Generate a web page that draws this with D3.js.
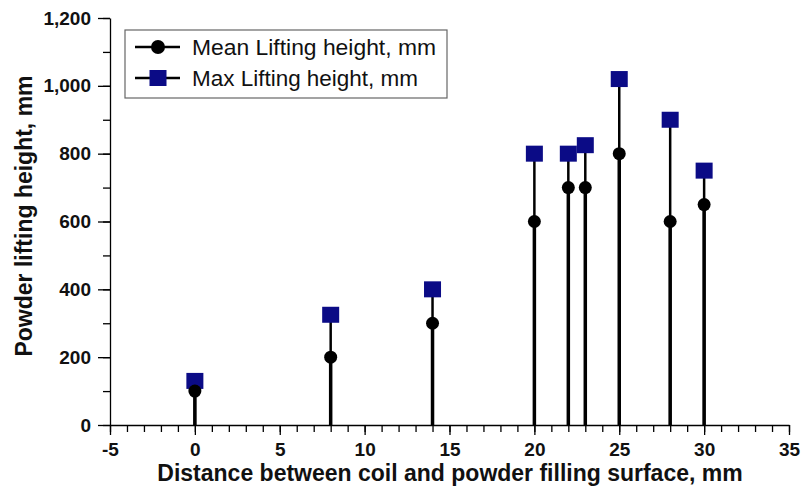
<!DOCTYPE html>
<html>
<meta charset="utf-8">
<script src='https://d3js.org/d3.v7.min.js'></script>
<style>
	body {margin: 0; background: white; }
	svg {display: block; font-family: "Liberation Sans", Arial, sans-serif; }
</style>
<body>
<svg id="chart" width="803" height="487"></svg>
<script>
// distances (mm) and lifting heights (mm)
const distance = [0, 8, 14, 20, 22, 23, 25, 28, 30];
const meanLift = [100, 200, 300, 600, 700, 700, 800, 600, 650];
const maxLift  = [130, 325, 400, 800, 800, 825, 1020, 900, 750];

const xTicks = [-5, 0, 5, 10, 15, 20, 25, 30, 35];
const yTicks = [0, 200, 400, 600, 800, 1000, 1200];
const seriesNames = ["Mean Lifting height, mm", "Max Lifting height, mm"];

const svg = d3.select("#chart"),
	margin = {top: 18, right: 14, bottom: 62, left: 110},
	width = +svg.attr("width"),
	height = +svg.attr("height");

const x = d3.scaleLinear()
	.domain([-5, 35])
	.range([margin.left, width - margin.right]);

const y = d3.scaleLinear()
	.domain([0, 1200])
	.range([height - margin.bottom, margin.top]);

const navy = "#0b0b86";
const points = distance.map((d, i) => ({d, mean: meanLift[i], max: maxLift[i]}));

// minor ticks
svg.append("g")
	.attr("transform", `translate(0,${y(0)})`)
	.call(d3.axisBottom(x).ticks(40).tickSize(7).tickFormat(""))
	.call(g => g.select(".domain").remove())
	.selectAll("line").attr("stroke-width", 1.3);

svg.append("g")
	.attr("transform", `translate(${x(-5)},0)`)
	.call(d3.axisLeft(y).ticks(12).tickSize(7).tickFormat(""))
	.call(g => g.select(".domain").remove())
	.selectAll("line").attr("stroke-width", 1.3);

// major ticks + labels
const xAxis = svg.append("g")
	.attr("transform", `translate(0,${y(0)})`)
	.call(d3.axisBottom(x).tickValues(xTicks).tickSize(10).tickPadding(8).tickSizeOuter(0).tickFormat(d => String(d)));
xAxis.selectAll("line").attr("stroke-width", 1.3);
xAxis.select(".domain").attr("stroke-width", 1.3);
xAxis.selectAll("text")
	.attr("font-size", 19).attr("font-weight", "bold").attr("fill", "#111")
	.attr("font-family", "Liberation Sans, Arial");

const yAxis = svg.append("g")
	.attr("transform", `translate(${x(-5)},0)`)
	.call(d3.axisLeft(y).tickValues(yTicks).tickSize(12).tickPadding(7).tickSizeOuter(0).tickFormat(d3.format(",")));
yAxis.selectAll("line").attr("stroke-width", 1.3);
yAxis.select(".domain").attr("stroke-width", 1.3);
yAxis.selectAll("text")
	.attr("font-size", 19).attr("font-weight", "bold").attr("fill", "#111")
	.attr("font-family", "Liberation Sans, Arial");

// axis titles
svg.append("text")
	.attr("x", 450)
	.attr("y", 481)
	.attr("text-anchor", "middle")
	.attr("font-size", 23)
	.attr("font-weight", "bold")
	.attr("fill", "#111")
	.text("Distance between coil and powder filling surface, mm");

svg.append("text")
	.attr("transform", "rotate(-90)")
	.attr("x", -216)
	.attr("y", 32)
	.attr("text-anchor", "middle")
	.attr("font-size", 23)
	.attr("font-weight", "bold")
	.attr("fill", "#111")
	.text("Powder lifting height, mm");

// drop lines
svg.selectAll(".stem-max")
	.data(points)
	.enter()
	.append("line")
	.attr("x1", p => x(p.d)).attr("x2", p => x(p.d))
	.attr("y1", y(0)).attr("y2", p => y(p.max))
	.attr("stroke", "#000").attr("stroke-width", 2.5);

svg.selectAll(".stem-mean")
	.data(points)
	.enter()
	.append("line")
	.attr("x1", p => x(p.d)).attr("x2", p => x(p.d))
	.attr("y1", y(0)).attr("y2", p => y(p.mean))
	.attr("stroke", "#000").attr("stroke-width", 3.5);

// markers
svg.selectAll(".max-pt")
	.data(points)
	.enter()
	.append("rect")
	.attr("x", p => x(p.d) - 8.5).attr("y", p => y(p.max) - 8)
	.attr("width", 17).attr("height", 16)
	.attr("fill", navy);

svg.selectAll(".mean-pt")
	.data(points)
	.enter()
	.append("circle")
	.attr("cx", p => x(p.d)).attr("cy", p => y(p.mean))
	.attr("r", 6.5)
	.attr("fill", "#000");

// legend
const legend = svg.append("g");
legend.append("rect")
	.attr("x", 125).attr("y", 30).attr("width", 322).attr("height", 68)
	.attr("fill", "white").attr("stroke", "#666").attr("stroke-width", 1.2);

seriesNames.forEach((name, i) => {
	const ly = 47 + i * 31;
	legend.append("line")
		.attr("x1", 135).attr("x2", 180).attr("y1", ly).attr("y2", ly)
		.attr("stroke", "#000").attr("stroke-width", 2.5);
	if (i === 0) {
		legend.append("circle").attr("cx", 158).attr("cy", ly).attr("r", 7).attr("fill", "#000");
	} else {
		legend.append("rect").attr("x", 149.5).attr("y", ly - 8).attr("width", 17).attr("height", 16).attr("fill", navy);
	}
	legend.append("text")
		.attr("x", 192).attr("y", ly + 7.5)
		.attr("font-size", 22)
		.attr("fill", "#111")
		.attr("textLength", i === 0 ? 244 : 226)
		.attr("lengthAdjust", "spacingAndGlyphs")
		.text(name);
});
</script>
</body>
</html>
